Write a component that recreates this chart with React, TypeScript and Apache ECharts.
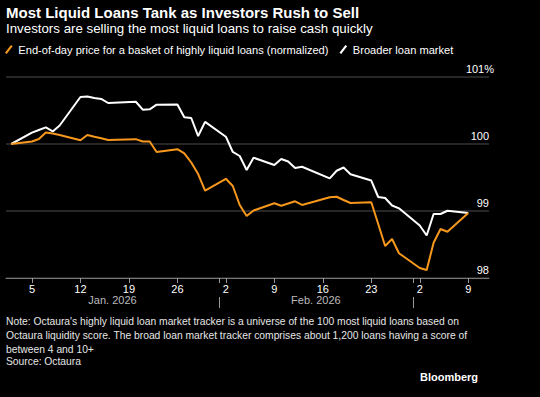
import React, { useEffect, useRef } from "react";
import * as echarts from "echarts";

const dates = [
  "2026-01-02", "2026-01-05", "2026-01-06", "2026-01-07", "2026-01-08", "2026-01-09",
  "2026-01-12", "2026-01-13", "2026-01-14", "2026-01-15", "2026-01-16",
  "2026-01-20", "2026-01-21", "2026-01-22", "2026-01-23",
  "2026-01-26", "2026-01-27", "2026-01-28", "2026-01-29", "2026-01-30",
  "2026-02-02", "2026-02-03", "2026-02-04", "2026-02-05", "2026-02-06",
  "2026-02-09", "2026-02-10", "2026-02-11", "2026-02-12", "2026-02-13",
  "2026-02-17", "2026-02-18", "2026-02-19", "2026-02-20",
  "2026-02-23", "2026-02-24", "2026-02-25", "2026-02-26", "2026-02-27",
  "2026-03-02", "2026-03-03", "2026-03-04", "2026-03-05", "2026-03-06",
  "2026-03-09",
];

const liquidBasket = [
  100.0, 100.037, 100.075, 100.172, 100.157, 100.134,
  100.055, 100.134, 100.109, 100.085, 100.06,
  100.072, 100.037, 100.037, 99.881,
  99.922, 99.861, 99.724, 99.552, 99.303,
  99.481, 99.373, 99.09, 98.925, 99.007,
  99.115, 99.079, 99.112, 99.145, 99.09,
  99.205, 99.213, 99.164, 99.119,
  99.13, 98.806, 98.478, 98.582, 98.369,
  98.149, 98.119, 98.527, 98.731, 98.691,
  98.97,
];

const broaderMarket = [
  100.0, 100.169, 100.209, 100.249, 100.187, 100.276,
  100.701, 100.709, 100.687, 100.672, 100.612,
  100.631, 100.512, 100.518, 100.587,
  100.59, 100.399, 100.388, 100.119, 100.331,
  100.109, 99.881, 99.821, 99.612, 99.796,
  99.687, 99.776, 99.739, 99.642, 99.661,
  99.488, 99.601, 99.649, 99.549,
  99.455, 99.209, 99.194, 99.082, 99.04,
  98.784, 98.634, 98.955, 98.955, 99.004,
  98.97,
];

const seriesNames = [
  "End-of-day price for a basket of highly liquid loans (normalized)",
  "Broader loan market",
];

const weekTicks = [
  "2026-01-05", "2026-01-12", "2026-01-19", "2026-01-26", "2026-02-02",
  "2026-02-09", "2026-02-16", "2026-02-23", "2026-03-02", "2026-03-09",
];
const monthStarts = ["2026-01-01", "2026-02-01", "2026-03-01"];
const monthLabels = ["Jan. 2026", "Feb. 2026"];

const yTicks = [98, 99, 100, 101];

const titleText = "Most Liquid Loans Tank as Investors Rush to Sell";
const subtitleText = "Investors are selling the most liquid loans to raise cash quickly";
const noteText =
  "Note: Octaura's highly liquid loan market tracker is a universe of the 100 most liquid loans based on\nOctaura liquidity score. The broad loan market tracker comprises about 1,200 loans having a score of\nbetween 4 and 10+";
const sourceText = "Source: Octaura";

const EPOCH = Date.UTC(2026, 0, 1);
const dayIndex = (s: string) => {
  const [y, m, d] = s.split("-").map(Number);
  return (Date.UTC(y, m - 1, d) - EPOCH) / 86400000;
};
const dayOfMonth = (v: number) => new Date(EPOCH + Math.round(v) * 86400000).getUTCDate();

const X_MIN = 0.25;
const X_MAX = 70;

export default function App() {
  const ref = useRef<HTMLDivElement>(null);
  useEffect(() => {
    document.body.style.margin = "0";
    document.body.style.background = "#000";
    if (!ref.current) return;
    const chart = echarts.init(ref.current, undefined, { renderer: "svg" });
    const font = "'Liberation Sans', Arial, sans-serif";

    const weekVals = weekTicks.map(dayIndex);
    const boundaryVals = monthStarts.slice(1).map(dayIndex);
    const monthCenters = monthLabels.map((_, i) => {
      const a = Math.max(X_MIN, dayIndex(monthStarts[i]));
      const b = Math.min(X_MAX, dayIndex(monthStarts[i + 1]));
      return (a + b) / 2;
    });

    const baseX = { type: "value", min: X_MIN, max: X_MAX, splitLine: { show: false }, position: "bottom" };

    chart.setOption({
      animation: false,
      backgroundColor: "#000",
      textStyle: { fontFamily: font },
      title: [
        { text: titleText, left: 6, top: 5, padding: 0, textStyle: { color: "#fff", fontSize: 15, fontWeight: "bold", fontFamily: font } },
        { text: subtitleText, left: 6, top: 22, padding: 0, textStyle: { color: "#fff", fontSize: 13.3, fontWeight: "normal", fontFamily: font } },
        { text: noteText, left: 6, top: 314, padding: 0, textStyle: { color: "#e6e6e6", fontSize: 10.3, lineHeight: 14, fontWeight: "normal", fontFamily: font } },
        { text: sourceText, left: 6, top: 356, padding: 0, textStyle: { color: "#e6e6e6", fontSize: 10.3, fontWeight: "normal", fontFamily: font } },
        { text: "Bloomberg", right: 62, top: 371, padding: 0, textStyle: { color: "#fff", fontSize: 11, fontWeight: "bold", fontFamily: font } },
      ],
      legend: {
        left: 5,
        top: 44,
        padding: 0,
        itemWidth: 9,
        itemHeight: 9,
        itemGap: 11,
        data: seriesNames.map((n) => ({ name: n, icon: "path://M0,9 L7,0 L9,1.6 L2,10.6 Z" })),
        textStyle: { color: "#fff", fontSize: 11.1, fontFamily: font },
      },
      grid: { left: 6, right: 51, top: 77, bottom: 119, containLabel: false, outerBoundsMode: "none" },
      xAxis: [
        {
          ...baseX,
          axisLine: { show: true, lineStyle: { color: "#777", width: 1 } },
          axisTick: { show: true, customValues: [...weekVals, ...boundaryVals], length: 5, lineStyle: { color: "#999" } },
          axisLabel: { customValues: weekVals, formatter: (v: number) => String(dayOfMonth(v)), color: "#fff", fontSize: 11, margin: 5 },
        },
        {
          ...baseX,
          offset: 19,
          axisLine: { show: false },
          axisTick: { show: true, customValues: boundaryVals, length: 11, lineStyle: { color: "#999" } },
          axisLabel: { show: false },
        },
        {
          ...baseX,
          offset: 14,
          axisLine: { show: false },
          axisTick: { show: false },
          axisLabel: {
            customValues: monthCenters,
            formatter: (v: number) => {
              let best = 0;
              monthCenters.forEach((c, i) => { if (Math.abs(c - v) < Math.abs(monthCenters[best] - v)) best = i; });
              return monthLabels[best];
            },
            color: "#bbb",
            fontSize: 11,
            margin: 2,
          },
        },
      ],
      yAxis: {
        type: "value",
        position: "right",
        min: yTicks[0],
        max: yTicks[yTicks.length - 1],
        interval: 1,
        axisLine: { show: false },
        axisTick: { show: false },
        splitLine: { show: true, lineStyle: { color: "#333", width: 1.5 } },
        axisLabel: {
          inside: true,
          margin: -5,
          verticalAlign: "bottom",
          formatter: (v: number) => (v === yTicks[yTicks.length - 1] ? `{a|${v}}{p|%}` : `{a|${v}}{b|}`),
          rich: {
            a: { color: "#fff", fontSize: 11, padding: [0, 0, 3, 0] },
            p: { color: "#fff", fontSize: 11, padding: [0, 0, 3, 0] },
            b: { width: 5 },
          },
        },
      },
      series: [
        {
          name: seriesNames[0],
          type: "line",
          showSymbol: false,
          data: dates.map((d, i) => [dayIndex(d), liquidBasket[i]]),
          lineStyle: { color: "#f7981d", width: 2 },
          itemStyle: { color: "#f7981d" },
          z: 3,
        },
        {
          name: seriesNames[1],
          type: "line",
          showSymbol: false,
          data: dates.map((d, i) => [dayIndex(d), broaderMarket[i]]),
          lineStyle: { color: "#ffffff", width: 2 },
          itemStyle: { color: "#ffffff" },
          z: 2,
        },
      ],
    });
    return () => chart.dispose();
  }, []);
  return <div ref={ref} style={{ width: 540, height: 397, background: "#000" }} />;
}
